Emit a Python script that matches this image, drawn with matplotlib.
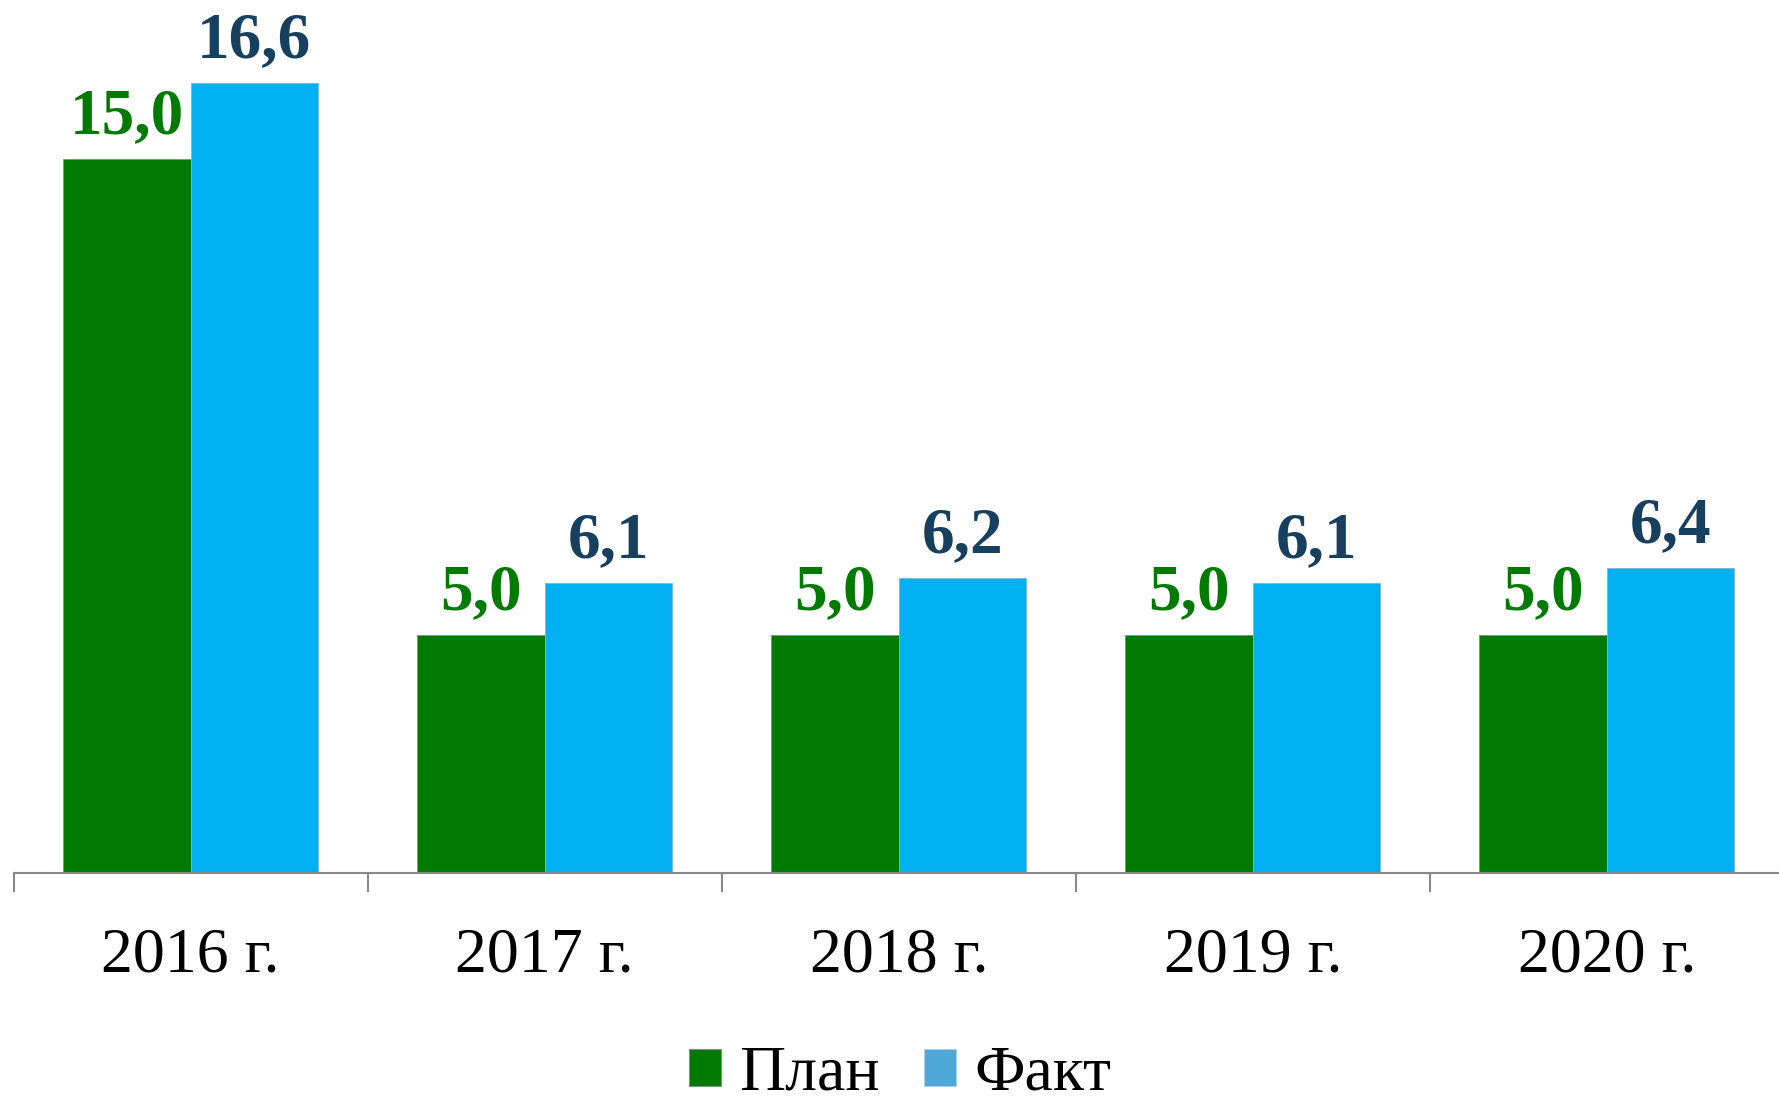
import matplotlib

matplotlib.use("Agg")
import matplotlib.pyplot as plt
import numpy as np
from matplotlib.patches import Patch

years = ["2016 г.", "2017 г.", "2018 г.", "2019 г.", "2020 г."]
plan = [15.0, 5.0, 5.0, 5.0, 5.0]
fact = [16.6, 6.1, 6.2, 6.1, 6.4]
series_names = ["План", "Факт"]

PLAN_COLOR = "#007A00"
FACT_COLOR = "#00B0F0"
FACT_LEGEND = "#4FA6D9"
FACT_LABEL = "#17405E"

plt.rcParams["font.family"] = ["Liberation Serif", "DejaVu Serif"]

fig = plt.figure(figsize=(17.79, 11.03), dpi=100)
ax = fig.add_axes([0.0076, 0.2085, 0.9952, 0.7915])

x = np.arange(len(years))
width = 0.36
ax.bar(x - width / 2, plan, width, color=PLAN_COLOR, edgecolor="#8a8a8a", linewidth=0.6)
ax.bar(x + width / 2, fact, width, color=FACT_COLOR, edgecolor="#7fb4d6", linewidth=0.6)

# value labels above bars
for xi, value in zip(x, plan):
    ax.annotate(f"{value:.1f}".replace(".", ","), (xi - width / 2, value),
                xytext=(0, 26), textcoords="offset pixels", ha="center", va="baseline",
                fontsize=47, fontweight="bold", color=PLAN_COLOR)
for xi, value in zip(x, fact):
    ax.annotate(f"{value:.1f}".replace(".", ","), (xi + width / 2, value),
                xytext=(0, 26), textcoords="offset pixels", ha="center", va="baseline",
                fontsize=47, fontweight="bold", color=FACT_LABEL)

ax.set_xlim(-0.5, len(years) - 0.5)
ax.set_ylim(0, 18.34)
ax.set_yticks([])
for side in ["left", "right", "top"]:
    ax.spines[side].set_visible(False)
ax.spines["bottom"].set_color("#888888")
ax.spines["bottom"].set_linewidth(1.5)

ax.set_xticks(np.arange(-0.5, len(years), 1.0))
ax.set_xticklabels([])
ax.tick_params(axis="x", which="major", length=14, width=1.5, color="#888888", direction="out")
ax.set_xticks(x, minor=True)
ax.set_xticklabels(years, minor=True, fontsize=46, color="black")
ax.tick_params(axis="x", which="minor", length=0, pad=39)

handles = [
    Patch(facecolor=PLAN_COLOR, edgecolor="#8a8a8a", linewidth=0.8, label=series_names[0]),
    Patch(facecolor=FACT_LEGEND, edgecolor="#a8cde6", linewidth=0.8, label=series_names[1]),
]
fig.legend(handles=handles, loc="center", bbox_to_anchor=(900 / 1779, 1 - 1075 / 1103),
           ncol=2, frameon=False, fontsize=46, handlelength=0.5, handleheight=0.5,
           handletextpad=0.28, columnspacing=0.7, borderaxespad=0)

fig.savefig("out.png", dpi=100)
